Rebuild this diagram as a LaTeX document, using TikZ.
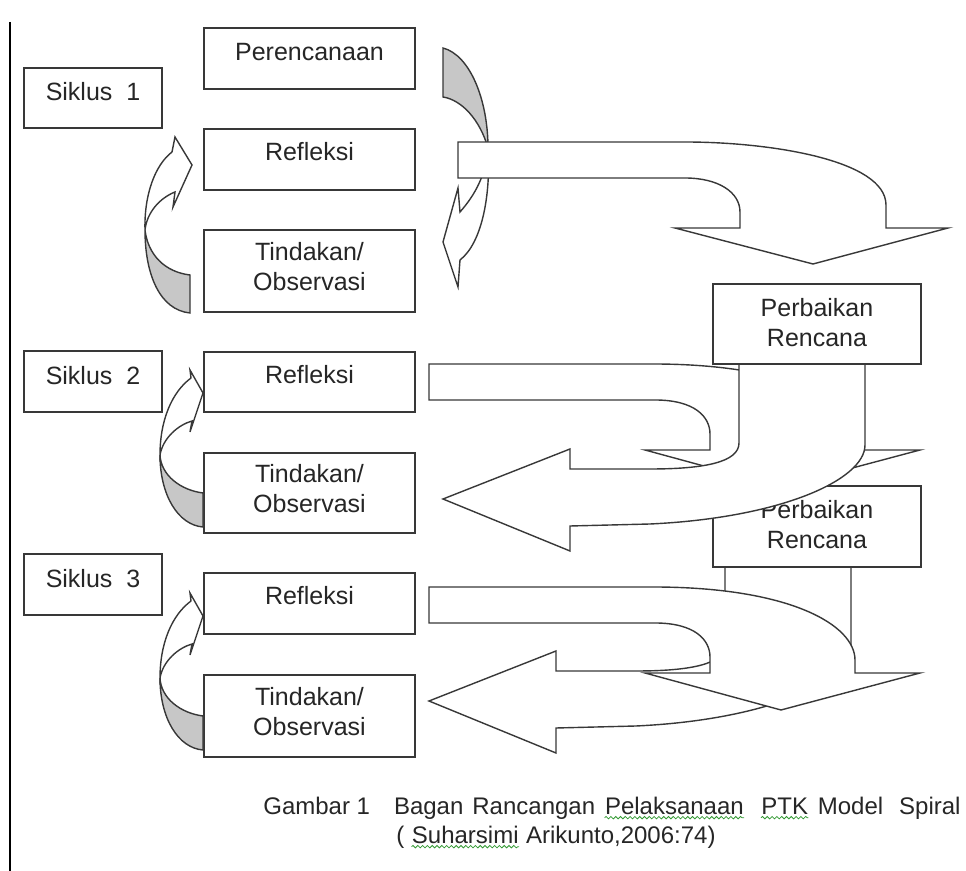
\documentclass[tikz,border=0pt]{standalone}
\usepackage{fontspec}
\setmainfont{Liberation Sans}
\usetikzlibrary{positioning, decorations.pathmorphing}
\newcommand\grammarwave[1]{\tikz[baseline=(gw.base), x=1pt, y=1pt]{%
    \node[inner sep=0pt] (gw) {#1};
    \draw[green!50!black!80, line width=0.4pt, decorate, decoration={snake, amplitude=0.6pt, segment length=2.4pt}]
        ([yshift=-1.8pt]gw.base west) -- ([yshift=-1.8pt]gw.base east);}}
\tikzset{
  stagebox/.style={draw=black!78, line width=0.8pt, fill=white, minimum width=105.5pt, inner sep=0pt},
  cyclebox/.style={stagebox, minimum width=69pt, minimum height=30pt},
  fixbox/.style={stagebox, minimum width=104pt, minimum height=40pt},
  boxtext/.style={font=\fontsize{12.5}{15}\selectfont, text=black!85, align=center, inner sep=0pt},
  captext/.style={font=\fontsize{12}{14}\selectfont, text=black!85, inner sep=0pt},
  flowarrow/.style={draw=black!78, line width=0.7pt, fill=white, line join=miter},
  underside/.style={draw=black!78, line width=0.7pt, fill=black!22},
}

\begin{document}
\begin{tikzpicture}[x=0.5pt, y=-0.5pt]
    \useasboundingbox (0,0) rectangle (966,871);
    % margin line
    \draw[line width=1.3pt] (10,22) -- (10,871);
    % cycle labels
    \node[cyclebox] (cyc1) at (93,98) {};
    \node[boxtext] (cyc1t) at ([yshift=3pt]cyc1.center) {Siklus\ \ 1};
    \node[cyclebox, minimum height=30.5pt] (cyc2) at (93,381.5) {};
    \node[boxtext] (cyc2t) at ([yshift=3pt]cyc2.center) {Siklus\ \ 2};
    \node[cyclebox, minimum height=30.5pt] (cyc3) at (93,584.5) {};
    \node[boxtext] (cyc3t) at ([yshift=3pt]cyc3.center) {Siklus\ \ 3};
    % stage boxes, left column
    \node[stagebox, minimum height=30.5pt] (plan) at (309.5,58.5) {};
    \node[boxtext] (plant) at ([yshift=3.25pt]plan.center) {Perencanaan};
    \node[stagebox, minimum height=30.5pt] (refl1) at (309.5,159.5) {};
    \node[boxtext] (refl1t) at ([yshift=3.75pt]refl1.center) {Refleksi};
    \node[stagebox, minimum height=41pt] (act1) at (309.5,271) {};
    \node[boxtext] (act1t) at ([yshift=2pt]act1.center) {Tindakan/\\Observasi};
    \node[stagebox, minimum height=30pt] (refl2) at (309.5,382) {};
    \node[boxtext] (refl2t) at ([yshift=3.75pt]refl2.center) {Refleksi};
    \node[stagebox, minimum height=40pt] (act2) at (309.5,493) {};
    \node[boxtext] (act2t) at ([yshift=2pt]act2.center) {Tindakan/\\Observasi};
    \node[stagebox, minimum height=30.5pt] (refl3) at (309.5,603.5) {};
    \node[boxtext] (refl3t) at ([yshift=3.75pt]refl3.center) {Refleksi};
    \node[stagebox, minimum height=41pt] (act3) at (309.5,716) {};
    \node[boxtext] (act3t) at ([yshift=2pt]act3.center) {Tindakan/\\Observasi};
    % curved arrows on the left: action back to reflection
    \filldraw[underside] (190,275) .. controls (165,272) and (148,255) .. (145,230)
        .. controls (145,275) and (160,310) .. (190,313) -- cycle;
    \filldraw[flowarrow] (145,230) .. controls (144,195) and (155,165) .. (172,152)
        -- (175,137) -- (192,165) -- (173,207) -- (175,192)
        .. controls (160,198) and (147,212) .. (145,230) -- cycle;
    \foreach \dy in {0,223} {
        \begin{scope}[shift={(0,\dy)}]
            \filldraw[underside] (203,493) .. controls (180,490) and (161,475) .. (160,455)
                .. controls (160,495) and (178,525) .. (203,527) -- cycle;
            \filldraw[flowarrow] (160,455) .. controls (160,420) and (172,392) .. (191,378)
                -- (190,370) -- (203,393) -- (190,432) -- (192,421)
                .. controls (178,425) and (163,438) .. (160,455) -- cycle;
        \end{scope}
    }
    % curved arrow on the right of cycle 1
    \filldraw[underside] (443,48) .. controls (470,55) and (488,100) .. (488,148)
        .. controls (480,120) and (462,100) .. (443,97) -- cycle;
    \filldraw[flowarrow] (488,148) .. controls (491,195) and (482,243) .. (460,260)
        -- (458,287) -- (443,242) -- (458,188) -- (460,212)
        .. controls (475,195) and (486,175) .. (488,148) -- cycle;
    % reflection 1 -> revised plan
    \filldraw[flowarrow] (458,142) -- (685,142) .. controls (770,142) and (886,160) .. (886,205)
        -- (886,228) -- (948,228) -- (813,264) -- (675,228) -- (740,228) -- (740,212)
        .. controls (740,192) and (718,178) .. (685,178) -- (458,178) -- cycle;
    % reflection 2 and 3 -> bend down
    \filldraw[flowarrow, shift={(0,-223)}] (429,587) -- (653,587) .. controls (790,587) and (855,625) .. (855,660)
        -- (855,673) -- (920,673) -- (781,710) -- (645,673) -- (710,673) -- (710,657)
        .. controls (710,640) and (695,623) .. (655,623) -- (429,623) -- cycle;
    % revised plan 2 -> action 3
    \filldraw[flowarrow] (725,566) -- (725,645) .. controls (725,664) and (691,671) .. (636,671)
        -- (556,671) -- (556,651) -- (429,701) -- (556,753) -- (556,728)
        -- (636,726) .. controls (766,720) and (851,682) .. (851,647) -- (851,566) -- cycle;
    \filldraw[flowarrow] (429,587) -- (653,587) .. controls (790,587) and (855,625) .. (855,660)
        -- (855,673) -- (920,673) -- (781,710) -- (645,673) -- (710,673) -- (710,657)
        .. controls (710,640) and (695,623) .. (655,623) -- (429,623) -- cycle;
    % revised plan 2
    \node[fixbox, minimum height=40.5pt] (fix2) at (817,526.5) {};
    \node[boxtext] (fix2t) at ([yshift=0.75pt]fix2.center) {Perbaikan\\Rencana};
    % revised plan 1 -> action 2
    \filldraw[flowarrow] (739,364) -- (739,443) .. controls (739,462) and (705,469) .. (650,469)
        -- (570,469) -- (570,449) -- (443,499) -- (570,551) -- (570,526)
        -- (650,524) .. controls (780,518) and (865,480) .. (865,445) -- (865,364) -- cycle;
    % revised plan 1
    \node[fixbox] (fix1) at (817,324) {};
    \node[boxtext] (fix1t) at ([yshift=0.75pt]fix1.center) {Perbaikan\\Rencana};
    % caption
    \node[captext, anchor=east] (capline1) at (961,808)
        {Gambar 1\hspace{12pt}Bagan\hspace{4.5pt}Rancangan\hspace{4.5pt}\grammarwave{Pelaksanaan}\hspace{8pt}\grammarwave{PTK}\hspace{4.5pt}Model\hspace{8pt}Spiral};
    \node[captext] (capline2) at (556,837)
        {( \grammarwave{Suharsimi} Arikunto,2006:74)};
\end{tikzpicture}
\end{document}
